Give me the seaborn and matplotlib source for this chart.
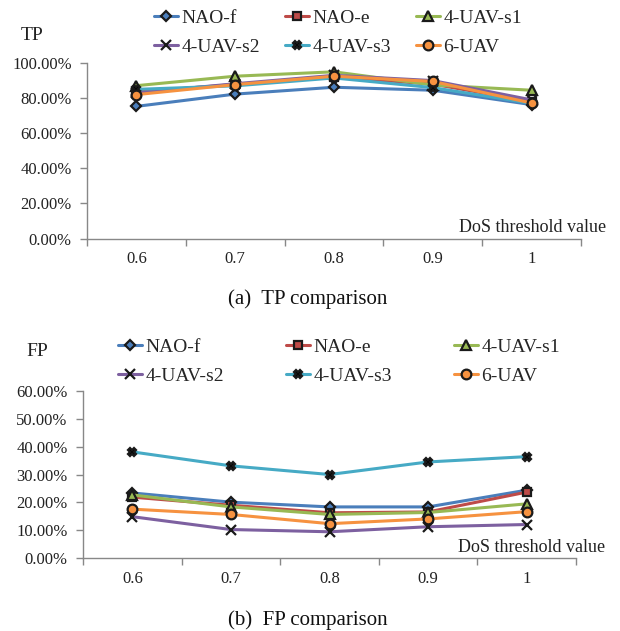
import numpy as np
import pandas as pd
import seaborn as sns
from matplotlib import pyplot as plt
from matplotlib.ticker import PercentFormatter, FixedLocator

thresholds = ["0.6", "0.7", "0.8", "0.9", "1"]
series = ["NAO-f", "NAO-e", "4-UAV-s1", "4-UAV-s2", "4-UAV-s3", "6-UAV"]

# TP values (fraction)
tp_nao_f = [0.753, 0.823, 0.862, 0.845, 0.763]
tp_nao_e = [0.835, 0.878, 0.920, 0.880, 0.780]
tp_uav_s1 = [0.871, 0.925, 0.950, 0.875, 0.845]
tp_uav_s2 = [0.830, 0.882, 0.930, 0.900, 0.790]
tp_uav_s3 = [0.850, 0.870, 0.915, 0.860, 0.770]
tp_uav_6 = [0.820, 0.877, 0.925, 0.895, 0.772]

# FP values (fraction)
fp_nao_f = [0.234, 0.201, 0.184, 0.184, 0.244]
fp_nao_e = [0.219, 0.190, 0.163, 0.166, 0.237]
fp_uav_s1 = [0.227, 0.184, 0.157, 0.164, 0.195]
fp_uav_s2 = [0.149, 0.103, 0.095, 0.113, 0.121]
fp_uav_s3 = [0.381, 0.331, 0.300, 0.345, 0.364]
fp_uav_6 = [0.176, 0.157, 0.124, 0.141, 0.167]

colors = ["#4A7EBB", "#BE4B48", "#98B954", "#7D60A0", "#46AAC5", "#F69240"]
markers = ["D", "s", "^", "x", "X", "o"]
msizes = [5, 6, 6.5, 6.5, 6, 7]

sns.set_theme(style="white")
plt.rcParams["font.family"] = ["Liberation Serif", "DejaVu Serif"]

fig = plt.figure(figsize=(6.2, 6.31), dpi=100)
ax_tp = fig.add_axes([0.1403, 0.6220, 0.7968, 0.2781])
ax_fp = fig.add_axes([0.1339, 0.1152, 0.7952, 0.2656])

tp_data = [tp_nao_f, tp_nao_e, tp_uav_s1, tp_uav_s2, tp_uav_s3, tp_uav_6]
fp_data = [fp_nao_f, fp_nao_e, fp_uav_s1, fp_uav_s2, fp_uav_s3, fp_uav_6]


def draw(ax, data, ymax, ystep):
    for name, vals, c, m, ms in zip(series, data, colors, markers, msizes):
        face = "black" if m in ("x", "X") else c
        sns.lineplot(x=thresholds, y=vals, ax=ax, sort=False, color=c, linewidth=2.2,
                     marker=m, markersize=ms, markerfacecolor=face,
                     markeredgecolor="#1a1a1a", markeredgewidth=1.6, label=name)
    ax.get_legend().remove()
    ax.set_xlim(-0.5, 4.5)
    ax.set_ylim(0, ymax)
    ax.set_yticks(np.arange(0, ymax + 1e-9, ystep))
    ax.yaxis.set_major_formatter(PercentFormatter(xmax=1, decimals=2))
    ax.xaxis.set_minor_locator(FixedLocator(np.arange(-0.5, 5, 1)))
    ax.tick_params(axis="x", which="major", length=0, pad=9, labelsize=12, labelcolor="#222222")
    ax.tick_params(axis="x", which="minor", length=5, width=1, color="#888888", direction="out", bottom=True)
    ax.tick_params(axis="y", length=5, width=1, color="#888888", direction="out", left=True,
                   pad=6, labelsize=12, labelcolor="#222222")
    ax.set_xlabel("")
    ax.set_ylabel("")
    for s in ["top", "right"]:
        ax.spines[s].set_visible(False)
    for s in ["left", "bottom"]:
        ax.spines[s].set_color("#888888")
        ax.spines[s].set_linewidth(1)
    h, l = ax.get_legend_handles_labels()
    order = [0, 3, 1, 4, 2, 5]
    return [h[i] for i in order], [l[i] for i in order]


h1, l1 = draw(ax_tp, tp_data, 1.0, 0.2)
h2, l2 = draw(ax_fp, fp_data, 0.6, 0.1)

fig.legend(h1, l1, ncol=3, loc="upper left", bbox_to_anchor=(154 / 620, 1 - 9 / 631),
           frameon=False, fontsize=14, handlelength=1.25, handletextpad=0.15,
           columnspacing=1.3, labelspacing=0.6, borderpad=0, borderaxespad=0)
fig.legend(h2, l2, ncol=3, loc="upper left", bbox_to_anchor=(118 / 620, 1 - 338 / 631),
           frameon=False, fontsize=14, handlelength=1.25, handletextpad=0.15,
           columnspacing=3.2, labelspacing=0.6, borderpad=0, borderaxespad=0)

fig.text(32 / 620, 1 - 36 / 631, "TP", ha="center", va="center", fontsize=14, color="#222222")
fig.text(37 / 620, 1 - 351 / 631, "FP", ha="center", va="center", fontsize=14, color="#222222")

fig.text(606 / 620, 1 - 228 / 631, "DoS threshold value", ha="right", va="center", fontsize=13, color="#222222")
fig.text(605 / 620, 1 - 547 / 631, "DoS threshold value", ha="right", va="center", fontsize=13, color="#222222")

fig.text(308 / 620, 1 - 299 / 631, "(a)  TP comparison", ha="center", va="center", fontsize=15, color="#111111")
fig.text(308 / 620, 1 - 620 / 631, "(b)  FP comparison", ha="center", va="center", fontsize=15, color="#111111")

fig.savefig("out.png", dpi=100)
